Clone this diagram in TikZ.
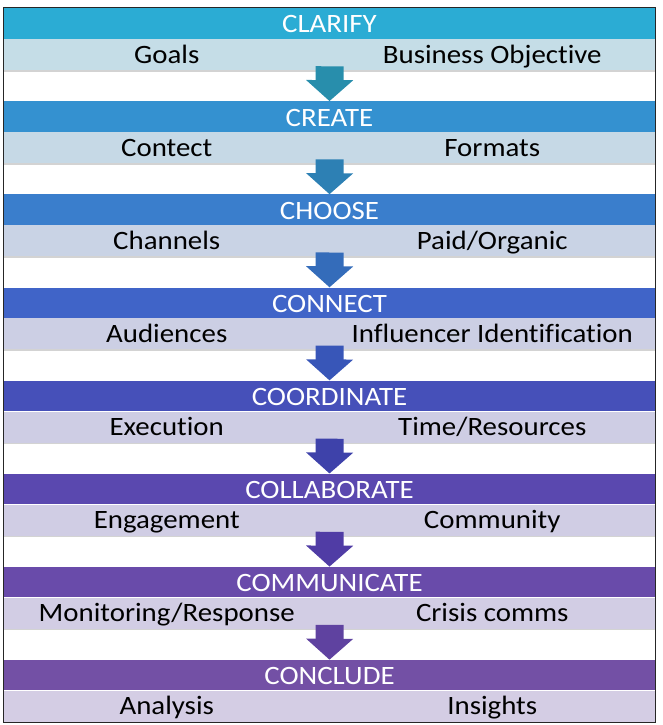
\documentclass[tikz,border=0pt]{standalone}
\usepackage{fontspec}
\setmainfont{Carlito}[Ligatures=CommonOff, FakeStretch=1.09]
\usetikzlibrary{positioning,arrows.meta,fit,shadows}

% header colours (cyan -> purple)
\definecolor{hclarify}{RGB}{43,172,212}
\definecolor{hcreate}{RGB}{52,145,208}
\definecolor{hchoose}{RGB}{58,126,204}
\definecolor{hconnect}{RGB}{64,100,200}
\definecolor{hcoordinate}{RGB}{70,80,185}
\definecolor{hcollaborate}{RGB}{90,72,175}
\definecolor{hcommunicate}{RGB}{105,75,170}
\definecolor{hconclude}{RGB}{115,80,165}
% sub-row colours
\definecolor{sclarify}{RGB}{197,221,231}
\definecolor{screate}{RGB}{198,217,230}
\definecolor{schoose}{RGB}{201,211,229}
\definecolor{sconnect}{RGB}{204,207,228}
\definecolor{scoordinate}{RGB}{206,205,228}
\definecolor{scollaborate}{RGB}{208,205,228}
\definecolor{scommunicate}{RGB}{210,205,228}
\definecolor{sconclude}{RGB}{212,205,228}
% arrow colours
\definecolor{aone}{RGB}{40,142,172}
\definecolor{atwo}{RGB}{45,128,180}
\definecolor{athree}{RGB}{52,108,186}
\definecolor{afour}{RGB}{56,86,184}
\definecolor{afive}{RGB}{62,66,170}
\definecolor{asix}{RGB}{80,60,165}
\definecolor{aseven}{RGB}{95,66,160}

\begin{document}
\begin{tikzpicture}[
    x=1pt, y=1pt,
    % stage header bar
    head/.style={fill=#1, text=white, minimum width=651pt, minimum height=30.5pt,
                 inner sep=0pt, text height=22pt, text depth=3pt,
                 font=\fontsize{26.5}{29}\selectfont},
    % half-width cell under a header
    cell/.style={fill=#1, text=black, minimum width=325.5pt, minimum height=31pt,
                 inner sep=0pt, text height=22pt, text depth=5pt,
                 font=\fontsize{26.5}{29}\selectfont,
                 drop shadow={shadow xshift=0pt, shadow yshift=-1.5pt, opacity=0.35}},
    % block arrow between stages
    blockarr/.style={draw=#1, line width=28pt,
                     -{Triangle[width=46pt, length=21pt, fill=#1]}},
    node distance=0pt
  ]
  \useasboundingbox (0,0) rectangle (663,-725);

  % ===================== stages =====================
  \node[head=hclarify, anchor=north] (clarify) at (329.5,-8) {CLARIFY};
  \node[cell=sclarify, below right=0pt and 0pt of clarify.south west] (goals) {Goals};
  \node[cell=sclarify, below left=0pt and 0pt of clarify.south east] (objective) {Business Objective};

  \node[head=hcreate, below=62.2pt of clarify] (create) {CREATE};
  \node[cell=screate, below right=0pt and 0pt of create.south west] (contect) {Contect};
  \node[cell=screate, below left=0pt and 0pt of create.south east] (formats) {Formats};

  \node[head=hchoose, below=62.2pt of create] (choose) {CHOOSE};
  \node[cell=schoose, below right=0pt and 0pt of choose.south west] (channels) {Channels};
  \node[cell=schoose, below left=0pt and 0pt of choose.south east] (paid) {Paid/Organic};

  \node[head=hconnect, below=62.2pt of choose] (connect) {CONNECT};
  \node[cell=sconnect, below right=0pt and 0pt of connect.south west] (audiences) {Audiences};
  \node[cell=sconnect, below left=0pt and 0pt of connect.south east] (influencer) {Influencer Identification};

  \node[head=hcoordinate, below=62.2pt of connect] (coordinate) {COORDINATE};
  \node[cell=scoordinate, below right=0pt and 0pt of coordinate.south west] (execution) {Execution};
  \node[cell=scoordinate, below left=0pt and 0pt of coordinate.south east] (resources) {Time/Resources};

  \node[head=hcollaborate, below=62.2pt of coordinate] (collaborate) {COLLABORATE};
  \node[cell=scollaborate, below right=0pt and 0pt of collaborate.south west] (engagement) {Engagement};
  \node[cell=scollaborate, below left=0pt and 0pt of collaborate.south east] (community) {Community};

  \node[head=hcommunicate, below=62.2pt of collaborate] (communicate) {COMMUNICATE};
  \node[cell=scommunicate, below right=0pt and 0pt of communicate.south west] (monitoring) {Monitoring/Response};
  \node[cell=scommunicate, below left=0pt and 0pt of communicate.south east] (crisis) {Crisis comms};

  \node[head=hconclude, below=62.2pt of communicate] (conclude) {CONCLUDE};
  \node[cell=sconclude, below right=0pt and 0pt of conclude.south west] (analysis) {Analysis};
  \node[cell=sconclude, below left=0pt and 0pt of conclude.south east] (insights) {Insights};

  % ===================== block arrows =====================
  \draw[blockarr=aone]   ([yshift=4pt]goals.south east)      -- (create.north);
  \draw[blockarr=atwo]   ([yshift=4pt]contect.south east)    -- (choose.north);
  \draw[blockarr=athree] ([yshift=4pt]channels.south east)   -- (connect.north);
  \draw[blockarr=afour]  ([yshift=4pt]audiences.south east)  -- (coordinate.north);
  \draw[blockarr=afive]  ([yshift=4pt]execution.south east)  -- (collaborate.north);
  \draw[blockarr=asix]   ([yshift=4pt]engagement.south east) -- (communicate.north);
  \draw[blockarr=aseven] ([yshift=4pt]monitoring.south east) -- (conclude.north);

  % outer frame
  \node[draw=black!85, line width=1.2pt, inner sep=0.4pt,
        fit=(clarify)(analysis)(insights)] (frame) {};

\end{tikzpicture}
\end{document}
